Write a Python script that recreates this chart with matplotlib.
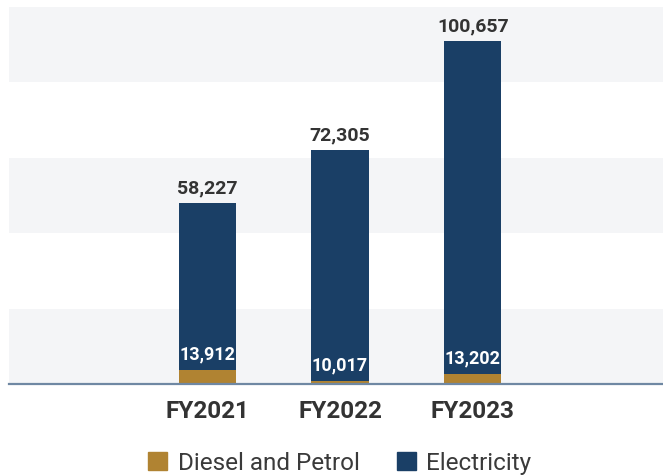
import matplotlib
matplotlib.use("Agg")
import matplotlib.pyplot as plt
from matplotlib.patches import Patch

years = ["FY2021", "FY2022", "FY2023"]
diesel = [3700, 800, 2700]          # bar heights
electricity = [44300, 61300, 88300]  # bar heights
total_labels = ["58,227", "72,305", "100,657"]
diesel_labels = ["13,912", "10,017", "13,202"]

NAVY = "#1a3f66"
GOLD = "#b08332"
BAND = "#f4f5f7"
TXT = "#333333"

plt.rcParams['font.family'] = ['Roboto', 'DejaVu Sans']

fig = plt.figure(figsize=(6.63, 4.77), dpi=100)
ax = fig.add_axes([9/663, (477-385)/477, 654/663, (385-8)/477])
ax.set_ylim(0, 100000)
ax.set_xlim(-1.4925, 3.432)

for lo in (0, 40000, 80000):
    ax.axhspan(lo, lo + 20000, color=BAND, zorder=0, lw=0)

x = list(range(len(years)))
w = 0.43
ax.bar(x, diesel, width=w, color=GOLD, zorder=2, label="Diesel and Petrol")
ax.bar(x, electricity, width=w, bottom=diesel, color=NAVY, zorder=2, label="Electricity")

for i in x:
    top = diesel[i] + electricity[i]
    ax.annotate(total_labels[i], (i, top), xytext=(0, 5), textcoords="offset points",
                ha="center", va="bottom", fontsize=14, fontweight="bold", color=TXT)
    ax.annotate(diesel_labels[i], (i, diesel[i]), xytext=(0, 5.5), textcoords="offset points",
                ha="center", va="bottom", fontsize=13, fontweight="bold", color="white", zorder=3)

for s in ("top", "right", "left"):
    ax.spines[s].set_visible(False)
ax.spines["bottom"].set_color("#6f88a3")
ax.spines["bottom"].set_linewidth(1.6)
ax.spines["bottom"].set_zorder(4)
ax.set_yticks([])
ax.set_xticks(x)
ax.set_xticklabels(years, fontsize=17.5, fontweight="bold", color=TXT)
ax.tick_params(axis="x", length=0, pad=11)

handles = [Patch(color=GOLD, label="Diesel and Petrol"), Patch(color=NAVY, label="Electricity")]
fig.legend(handles=handles, loc="center", bbox_to_anchor=(340/663, (477-464)/477), ncol=2,
           frameon=False, fontsize=17.5, handlelength=0.78, handleheight=0.78,
           handletextpad=0.42, columnspacing=1.55, labelcolor="#3a3a3a")

fig.savefig("out.png", dpi=100)
